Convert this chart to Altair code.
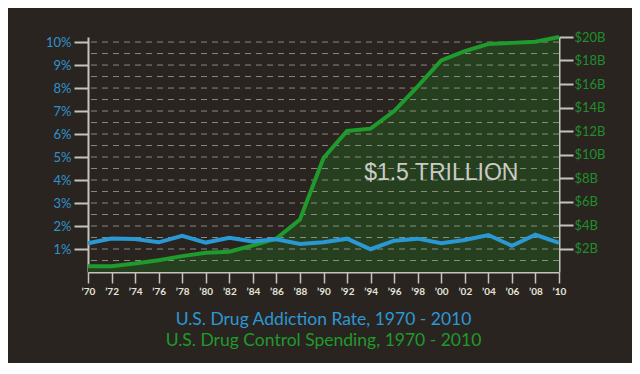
import altair as alt
import pandas as pd

# ---- data ----
years = [1970, 1972, 1974, 1976, 1978, 1980, 1982, 1984, 1986, 1988, 1990,
         1992, 1994, 1996, 1998, 2000, 2002, 2004, 2006, 2008, 2010]
addiction_rate_pct = [1.25, 1.46, 1.43, 1.29, 1.57, 1.28, 1.49, 1.33, 1.42, 1.22, 1.29,
                      1.45, 0.99, 1.36, 1.45, 1.25, 1.39, 1.61, 1.14, 1.62, 1.27]
spending_billions = [0.49, 0.49, 0.72, 1.00, 1.35, 1.63, 1.72, 2.26, 2.85, 4.47, 9.7,
                     12.0, 12.2, 13.7, 15.8, 18.0, 18.8, 19.4, 19.5, 19.6, 20.0]

left_ticks = [1, 2, 3, 4, 5, 6, 7, 8, 9, 10]
right_ticks = [2, 4, 6, 8, 10, 12, 14, 16, 18, 20]
grid_levels = [0.5, 1.0, 1.5, 2.0, 2.5, 3.0, 3.5, 4.0, 4.5, 5.0,
               5.5, 6.0, 6.5, 7.0, 7.5, 8.0, 8.5, 9.0, 9.5, 10.0]

annotation_text = ["$1.5 TRILLION"]
annotation_year = [2000.0]
annotation_pct = [4.3]

title_line1 = "U.S. Drug Addiction Rate, 1970 - 2010"
title_line2 = "U.S. Drug Control Spending, 1970 - 2010"

# ---- tables ----
df = pd.DataFrame({"year": years, "rate": addiction_rate_pct, "spend": spending_billions})
grid_df = pd.DataFrame({"level": grid_levels})
ann_df = pd.DataFrame({"text": annotation_text, "year": annotation_year, "pct": annotation_pct})

BG = "#2a2420"
AXIS_GRAY = "#c4c4bc"
BLUE = "#2b98d6"
GREEN = "#1f9a2c"
AREA = "#263f1f"

x_scale = alt.Scale(domain=[1970, 2010], nice=False, zero=False)
x_axis = alt.Axis(
    values=years,
    labelExpr="'\u2019' + slice(datum.value + '', 2)",
    labelColor="#e4e4dc", labelFontSize=10, labelFont="Lato", labelFontWeight="bold",
    labelOverlap=False, labelFlush=False,
    tickSize=11, tickColor=AXIS_GRAY, tickWidth=1.5,
    domainColor=AXIS_GRAY, domainWidth=2, labelPadding=3,
    grid=False, title=None,
)
X = alt.X("year:Q", scale=x_scale, axis=x_axis)

left_scale = alt.Scale(domain=[0, 10.22], nice=False, zero=True)
right_scale = alt.Scale(domain=[0, 20], nice=False, zero=True)

left_axis = alt.Axis(
    orient="left", values=left_ticks, labelExpr="datum.value + '%'",
    labelColor="#2f92cc", labelFontSize=13, labelFont="Lato",
    tickSize=14, tickColor=AXIS_GRAY, tickWidth=2,
    domainColor=AXIS_GRAY, domainWidth=2, labelPadding=3,
    grid=False, title=None,
)
right_axis = alt.Axis(
    orient="right", values=right_ticks, labelExpr="'$' + datum.value + 'B'",
    labelColor="#1f8f2b", labelFontSize=13, labelFont="Lato",
    tickSize=14, tickColor=AXIS_GRAY, tickWidth=2,
    domainColor=AXIS_GRAY, domainWidth=2, labelPadding=1,
    grid=False, title=None,
)

area = alt.Chart(df).mark_area(color=AREA, opacity=1).encode(
    x=X, y=alt.Y("spend:Q", scale=right_scale, axis=right_axis)
)

grid = alt.Chart(grid_df).mark_rule(
    color="#a8a8a0", strokeDash=[6, 5], strokeWidth=1, opacity=0.75
).encode(y=alt.Y("level:Q", scale=left_scale, axis=left_axis))

green_line = alt.Chart(df).mark_line(color=GREEN, strokeWidth=4).encode(
    x=X, y=alt.Y("spend:Q", scale=right_scale, axis=None)
)

blue_line = alt.Chart(df).mark_line(color=BLUE, strokeWidth=4).encode(
    x=X, y=alt.Y("rate:Q", scale=left_scale, axis=None)
)

ann = alt.Chart(ann_df).mark_text(
    color="#c9ccc4", fontSize=23, font="Liberation Sans", align="center", baseline="middle"
).encode(
    x=X, y=alt.Y("pct:Q", scale=left_scale, axis=None), text="text:N"
)

chart = alt.layer(area, grid, green_line, alt.layer(blue_line, ann)).resolve_scale(
    y="independent"
).properties(
    width=471, height=235,
    background=BG,
    padding={"left": 80, "top": 29, "right": 73, "bottom": 91},
    autosize=alt.AutoSizeParams(type="none"),
    title=alt.TitleParams(
        text=title_line1, subtitle=title_line2, orient="bottom", anchor="middle",
        color=BLUE, subtitleColor=GREEN, fontSize=17.5, subtitleFontSize=17.5,
        font="Lato", subtitleFont="Lato", fontWeight="normal",
        offset=15, subtitlePadding=3,
    ),
).configure_view(stroke=None)

chart.save("out.html", embed_options={"renderer": "svg", "actions": False})
